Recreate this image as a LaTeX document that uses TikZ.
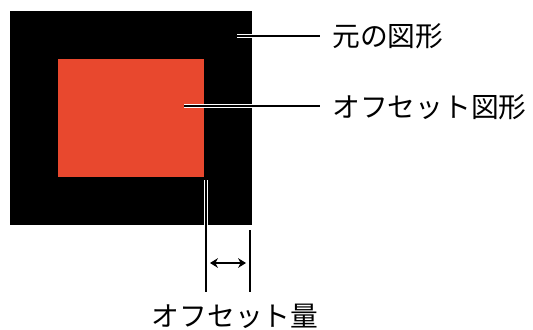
\documentclass[tikz,border=0pt]{standalone}
\usepackage{fontspec}
\newfontfamily\jpfont{Noto Sans CJK JP}
\usetikzlibrary{arrows.meta,positioning}
\definecolor{OffRed}{RGB}{232,72,46}

\begin{document}
\begin{tikzpicture}[
  x=0.02cm,y=-0.02cm,
  shape box/.style={draw=none,inner sep=0,anchor=north west},
  leader/.style={draw=white,double=black,double distance=1.05pt,line width=0.6pt},
  dimline/.style={draw=black,line width=1.05pt},
  lbl/.style={font=\jpfont\fontsize{15.8pt}{18pt}\selectfont,inner sep=0,anchor=west},
]
\useasboundingbox (0,0) rectangle (533,329);
% shapes
\node[shape box,fill=black,minimum width=4.84cm,minimum height=4.28cm] (orig) at (10,11) {};
\node[shape box,fill=OffRed,minimum width=2.92cm,minimum height=2.36cm] (offs) at (58,59) {};
% labels
\node[lbl] (origlbl) at (332,36) {元の図形};
\node[lbl] (offslbl) at (332,107) {オフセット図形};
\node[lbl,anchor=center] (amtlbl) at (235,316) {オフセット量};
% leaders
\coordinate (p1) at (237,36);
\coordinate (p2) at (184,106);
\coordinate (q1) at (206,180);
\coordinate (q2) at (250,230);
\coordinate (r1) at (206,292);
\coordinate (r2) at (250,292);
\coordinate (a1) at (210,263);
\coordinate (a2) at (246,263);
\draw[leader] (p1) -- ([xshift=-7pt]p1 -| origlbl.west);
\draw[leader] (p2) -- ([xshift=-7pt]p2 -| offslbl.west);
\draw[leader] (q1) -- (r1);
\draw[dimline] (q2) -- (r2);
\draw[dimline,{Stealth[length=4.5pt,width=5.5pt]}-{Stealth[length=4.5pt,width=5.5pt]}] (a1) -- (a2);
\end{tikzpicture}
\end{document}
